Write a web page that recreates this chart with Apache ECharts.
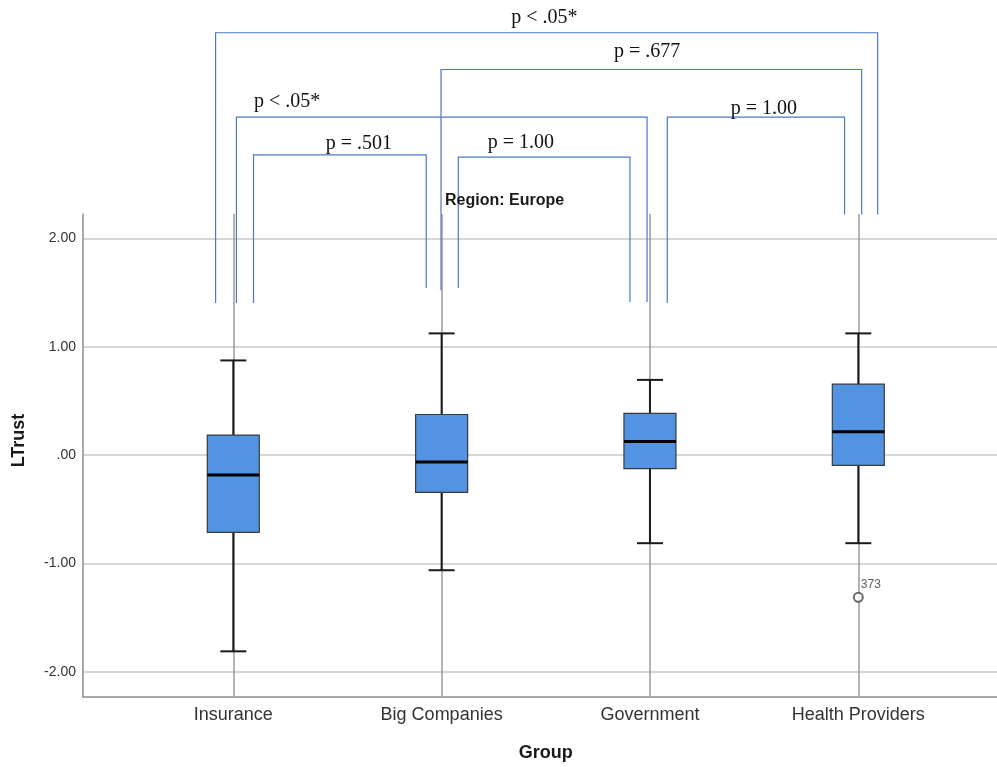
<!DOCTYPE html>
<html>
<head>
<meta charset="utf-8">
<script src="https://cdn.jsdelivr.net/npm/echarts@6/dist/echarts.min.js"></script>
<style>
  html, body { margin: 0; padding: 0; background: #ffffff; }
  #chart { width: 997px; height: 767px; }
</style>
</head>
<body>
<div id="chart"></div>
<script>
// Groups on the horizontal axis
const groups = ['Insurance', 'Big Companies', 'Government', 'Health Providers'];

// Five-number summaries of LTrust per group
const lowWhisker  = [-1.82, -1.07, -0.82, -0.82];
const q1          = [-0.72, -0.35, -0.13, -0.10];
const median      = [-0.19, -0.07,  0.12,  0.21];
const q3          = [ 0.18,  0.37,  0.38,  0.65];
const highWhisker = [ 0.87,  1.12,  0.69,  1.12];

// Outlying cases
const outlierGroup = [3];
const outlierValue = [-1.32];
const outlierCase  = ['373'];

// Pairwise comparisons and their p-values
const pairFrom  = [0, 1, 0, 0, 1, 2];
const pairTo    = [3, 3, 2, 1, 2, 3];
const pairLabel = ['p < .05*', 'p = .677', 'p < .05*', 'p = .501', 'p = 1.00', 'p = 1.00'];

// Value range of the LTrust axis
const yMin = -2.233;
const yMax = 2.224;

// Bracket geometry: horizontal nudges (in group spacings) from each group centre,
// heights of the bar and both legs, and where the p-label sits.
const bracketShape = [
  { dl: -0.085, dr: 0.093, top: 3.90, leftEnd: 1.40, rightEnd: 2.22, lx: 1.493, ly: 4.04 },
  { dl: -0.003, dr: 0.016, top: 3.56, leftEnd: 1.52, rightEnd: 2.22, lx: 1.986, ly: 3.72 },
  { dl:  0.015, dr: -0.014, top: 3.12, leftEnd: 1.40, rightEnd: 1.41, lx: 0.258, ly: 3.26 },
  { dl:  0.097, dr: -0.074, top: 2.77, leftEnd: 1.40, rightEnd: 1.54, lx: 0.603, ly: 2.87 },
  { dl:  0.080, dr: -0.096, top: 2.75, leftEnd: 1.54, rightEnd: 1.41, lx: 1.380, ly: 2.88 },
  { dl:  0.083, dr: -0.066, top: 3.12, leftEnd: 1.40, rightEnd: 2.22, lx: 2.547, ly: 3.20 }
];

const boxData = groups.map((g, i) => [i, lowWhisker[i], q1[i], median[i], q3[i], highWhisker[i]]);
const outlierData = outlierGroup.map((g, k) => ({ value: [g, outlierValue[k]], caseId: outlierCase[k] }));
const pairData = pairFrom.map((f, k) => [k, f, pairTo[k]]);

const axisGray = '#8c8c8c';
const bracketBlue = '#4a78cc';

function fmtTick(v) {
  const s = Math.abs(v).toFixed(2).replace(/^0\./, '.');
  return (v < 0 ? '-' : '') + s;
}

function renderBox(params, api) {
  const i = api.value(0);
  const lo = api.coord([i, api.value(1)]);
  const b1 = api.coord([i, api.value(2)]);
  const md = api.coord([i, api.value(3)]);
  const b3 = api.coord([i, api.value(4)]);
  const hi = api.coord([i, api.value(5)]);
  const x = lo[0];
  const boxW = 52;
  const capW = 26;
  const stroke = { stroke: '#1a1a1a', lineWidth: 2 };
  return {
    type: 'group',
    children: [
      { type: 'line', shape: { x1: x, y1: hi[1], x2: x, y2: b3[1] }, style: stroke },
      { type: 'line', shape: { x1: x, y1: b1[1], x2: x, y2: lo[1] }, style: stroke },
      { type: 'line', shape: { x1: x - capW / 2, y1: hi[1], x2: x + capW / 2, y2: hi[1] }, style: stroke },
      { type: 'line', shape: { x1: x - capW / 2, y1: lo[1], x2: x + capW / 2, y2: lo[1] }, style: stroke },
      {
        type: 'rect',
        shape: { x: x - boxW / 2, y: b3[1], width: boxW, height: b1[1] - b3[1] },
        style: { fill: '#5294e2', stroke: '#3a3a3a', lineWidth: 1.2 }
      },
      {
        type: 'line',
        shape: { x1: x - boxW / 2, y1: md[1], x2: x + boxW / 2, y2: md[1] },
        style: { stroke: '#000000', lineWidth: 3 }
      }
    ]
  };
}

function renderBracket(params, api) {
  const k = api.value(0);
  const f = api.value(1);
  const t = api.value(2);
  const s = bracketShape[k];
  const pts = [
    api.coord([f + s.dl, s.leftEnd]),
    api.coord([f + s.dl, s.top]),
    api.coord([t + s.dr, s.top]),
    api.coord([t + s.dr, s.rightEnd])
  ];
  const lp = api.coord([s.lx, s.ly]);
  return {
    type: 'group',
    children: [
      {
        type: 'polyline',
        shape: { points: pts },
        style: { stroke: bracketBlue, lineWidth: 1.2, fill: null }
      },
      {
        type: 'text',
        style: {
          text: pairLabel[k],
          x: lp[0],
          y: lp[1],
          align: 'center',
          verticalAlign: 'middle',
          fontFamily: '"Liberation Serif", "DejaVu Serif", serif',
          fontSize: 20,
          fill: '#111111'
        }
      }
    ]
  };
}

const chart = echarts.init(document.getElementById('chart'), null, { renderer: 'canvas' });

chart.setOption({
  animation: false,
  backgroundColor: '#ffffff',
  textStyle: { fontFamily: '"Liberation Sans", Arial, sans-serif' },
  grid: [
    { left: 83, right: 0, top: 214, bottom: 70 },
    { left: 233.3, right: 138.7, top: 214, bottom: 70 }
  ],
  graphic: [
    {
      type: 'text',
      left: 445,
      top: 193,
      style: {
        text: 'Region: Europe',
        fontFamily: '"Liberation Sans", Arial, sans-serif',
        fontSize: 16,
        fontWeight: 'bold',
        fill: '#1a1a1a'
      },
      z: 10
    }
  ],
  xAxis: [
    {
      gridIndex: 0,
      type: 'value',
      min: 0,
      max: 1,
      axisLine: { show: true, onZero: false, lineStyle: { color: axisGray, width: 1.5 } },
      axisTick: { show: false },
      axisLabel: { show: false },
      splitLine: { show: false }
    },
    {
      gridIndex: 1,
      type: 'category',
      data: groups,
      boundaryGap: false,
      name: 'Group',
      nameLocation: 'middle',
      nameGap: 48,
      nameTextStyle: { fontSize: 18, fontWeight: 'bold', color: '#1a1a1a' },
      axisLine: { show: false },
      axisTick: { show: false },
      axisLabel: { interval: 0, fontSize: 18, color: '#333333', margin: 10 },
      splitLine: { show: true, interval: 0, lineStyle: { color: '#9b9b9b', width: 1.5 } }
    },
    {
      gridIndex: 1,
      type: 'value',
      min: 0,
      max: 3,
      position: 'top',
      show: false
    }
  ],
  yAxis: [
    {
      gridIndex: 0,
      type: 'value',
      min: yMin,
      max: yMax,
      minInterval: 1,
      maxInterval: 1,
      name: 'LTrust',
      nameLocation: 'middle',
      nameGap: 55,
      nameTextStyle: { fontSize: 18, fontWeight: 'bold', color: '#1a1a1a', padding: [0, 0, 0, 30] },
      axisLine: { show: true, onZero: false, lineStyle: { color: axisGray, width: 1.5 } },
      axisTick: { show: false },
      axisLabel: {
        fontSize: 14,
        color: '#333333',
        margin: 7,
        showMinLabel: false,
        showMaxLabel: false,
        formatter: fmtTick
      },
      splitLine: {
        show: true,
        showMinLine: false,
        showMaxLine: false,
        lineStyle: { color: '#d6d6d6', width: 2 }
      }
    },
    {
      gridIndex: 1,
      type: 'value',
      min: yMin,
      max: yMax,
      show: false,
      splitLine: { show: false }
    }
  ],
  series: [
    {
      type: 'custom',
      name: 'LTrust',
      xAxisIndex: 1,
      yAxisIndex: 1,
      data: boxData,
      encode: { x: 0, y: [1, 2, 3, 4, 5] },
      renderItem: renderBox,
      z: 3
    },
    {
      type: 'scatter',
      name: 'Outliers',
      xAxisIndex: 1,
      yAxisIndex: 1,
      data: outlierData,
      symbol: 'emptyCircle',
      symbolSize: 9,
      itemStyle: { color: '#444444', borderColor: '#444444', borderWidth: 1.3 },
      label: {
        show: true,
        position: [8, -13],
        fontSize: 12,
        color: '#333333',
        formatter: (p) => p.data.caseId
      },
      z: 4
    },
    {
      type: 'custom',
      name: 'Comparisons',
      xAxisIndex: 2,
      yAxisIndex: 1,
      data: pairData,
      encode: { x: 1, y: 0 },
      clip: false,
      renderItem: renderBracket,
      z: 5
    }
  ]
});
</script>
</body>
</html>
